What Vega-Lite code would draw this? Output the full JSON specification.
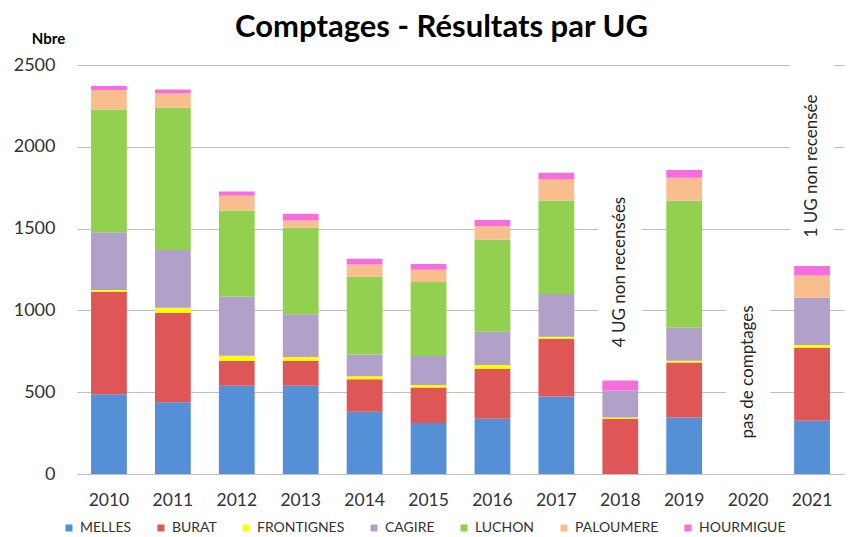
{
  "$schema": "https://vega.github.io/schema/vega-lite/v6.json",
  "width": 767,
  "height": 409,
  "autosize": {"type": "none"},
  "padding": {"left": 77, "top": 65, "right": 5, "bottom": 63},
  "background": "white",
  "title": {
    "text": "Comptages - Résultats par  UG",
    "font": "Lato",
    "fontSize": 31,
    "fontWeight": "bold",
    "color": "#000000",
    "anchor": "middle",
    "dx": -19,
    "dy": 33,
    "offset": 20
  },
  "config": {
    "view": {"stroke": null},
    "font": "Lato",
    "axis": {"labelFont": "Lato", "labelColor": "#333333", "gridColor": "#c0c0c0", "domainColor": "#c0c0c0"}
  },
  "datasets": {
    "counts": [
      {"year": "2010", "MELLES": 487, "BURAT": 627, "FRONTIGNES": 10, "CAGIRE": 353, "LUCHON": 751, "PALOUMERE": 119, "HOURMIGUE": 24},
      {"year": "2011", "MELLES": 438, "BURAT": 548, "FRONTIGNES": 30, "CAGIRE": 353, "LUCHON": 870, "PALOUMERE": 87, "HOURMIGUE": 25},
      {"year": "2012", "MELLES": 540, "BURAT": 153, "FRONTIGNES": 30, "CAGIRE": 361, "LUCHON": 527, "PALOUMERE": 90, "HOURMIGUE": 26},
      {"year": "2013", "MELLES": 540, "BURAT": 153, "FRONTIGNES": 22, "CAGIRE": 261, "LUCHON": 529, "PALOUMERE": 45, "HOURMIGUE": 41},
      {"year": "2014", "MELLES": 381, "BURAT": 198, "FRONTIGNES": 18, "CAGIRE": 134, "LUCHON": 475, "PALOUMERE": 75, "HOURMIGUE": 35},
      {"year": "2015", "MELLES": 312, "BURAT": 216, "FRONTIGNES": 16, "CAGIRE": 177, "LUCHON": 452, "PALOUMERE": 76, "HOURMIGUE": 34},
      {"year": "2016", "MELLES": 338, "BURAT": 304, "FRONTIGNES": 24, "CAGIRE": 204, "LUCHON": 564, "PALOUMERE": 82, "HOURMIGUE": 36},
      {"year": "2017", "MELLES": 473, "BURAT": 354, "FRONTIGNES": 12, "CAGIRE": 261, "LUCHON": 572, "PALOUMERE": 129, "HOURMIGUE": 40},
      {"year": "2018", "MELLES": 0, "BURAT": 336, "FRONTIGNES": 10, "CAGIRE": 165, "LUCHON": 0, "PALOUMERE": 0, "HOURMIGUE": 61},
      {"year": "2019", "MELLES": 346, "BURAT": 336, "FRONTIGNES": 11, "CAGIRE": 201, "LUCHON": 776, "PALOUMERE": 141, "HOURMIGUE": 47},
      {"year": "2021", "MELLES": 326, "BURAT": 446, "FRONTIGNES": 16, "CAGIRE": 290, "LUCHON": 0, "PALOUMERE": 136, "HOURMIGUE": 57}
    ],
    "series": [
      {"name": "MELLES", "rank": 1},
      {"name": "BURAT", "rank": 2},
      {"name": "FRONTIGNES", "rank": 3},
      {"name": "CAGIRE", "rank": 4},
      {"name": "LUCHON", "rank": 5},
      {"name": "PALOUMERE", "rank": 6},
      {"name": "HOURMIGUE", "rank": 7}
    ],
    "notes": [
      {"year": "2018", "text": "4 UG non recensées", "mid": 1235, "lo": 700, "hi": 1800},
      {"year": "2020", "text": "pas de comptages", "mid": 624, "lo": 100, "hi": 1150},
      {"year": "2021", "text": "1 UG non recensée", "mid": 1883, "lo": 1390, "hi": 2530}
    ]
  },
  "layer": [
    {
      "data": {"name": "counts"},
      "transform": [
        {"fold": ["MELLES", "BURAT", "FRONTIGNES", "CAGIRE", "LUCHON", "PALOUMERE", "HOURMIGUE"], "as": ["UG", "n"]},
        {"lookup": "UG", "from": {"data": {"name": "series"}, "key": "name", "fields": ["rank"]}}
      ],
      "mark": {"type": "bar"},
      "encoding": {
        "x": {
          "field": "year", "type": "nominal",
          "scale": {"domain": ["2010","2011","2012","2013","2014","2015","2016","2017","2018","2019","2020","2021"], "paddingInner": 0.44, "paddingOuter": 0.22},
          "axis": {"title": null, "labelAngle": 0, "labelFontSize": 17.5, "labelPadding": 17, "ticks": false, "domain": true, "domainWidth": 1.2, "grid": false}
        },
        "y": {
          "field": "n", "type": "quantitative", "stack": "zero",
          "scale": {"domain": [0, 2500], "nice": false},
          "axis": {
            "values": [0, 500, 1000, 1500, 2000, 2500], "format": "d",
            "labelFontSize": 18, "labelPadding": 22, "ticks": false, "domain": false,
            "gridWidth": 1.2,
            "title": "Nbre", "titleAngle": 0, "titleFont": "Lato", "titleFontSize": 15, "titleFontWeight": "bold",
            "titleColor": "#000000", "titleX": -29, "titleY": -22, "titleAlign": "center", "titleBaseline": "alphabetic"
          }
        },
        "color": {
          "field": "UG", "type": "nominal",
          "scale": {
            "domain": ["MELLES", "BURAT", "FRONTIGNES", "CAGIRE", "LUCHON", "PALOUMERE", "HOURMIGUE"],
            "range": ["#558fd5", "#de5656", "#ffff00", "#b1a1c8", "#92d050", "#f9be8e", "#f66edc"]
          },
          "legend": {
            "title": null, "orient": "none", "direction": "horizontal", "legendX": -15, "legendY": 456,
            "symbolType": "square", "symbolSize": 49, "symbolStrokeWidth": 0,
            "labelFont": "Lato", "labelFontSize": 14, "labelColor": "#333333", "labelOffset": 4,
            "columnPadding": 22
          }
        },
        "order": {"field": "rank", "type": "quantitative", "sort": "ascending"}
      }
    },
    {
      "data": {"name": "notes"},
      "mark": {"type": "bar", "color": "white", "width": 44},
      "encoding": {
        "x": {"field": "year", "type": "nominal"},
        "y": {"field": "lo", "type": "quantitative"},
        "y2": {"field": "hi"}
      }
    },
    {
      "data": {"name": "notes"},
      "mark": {"type": "text", "angle": 270, "font": "Lato", "fontSize": 17, "color": "#262626", "align": "center", "baseline": "middle"},
      "encoding": {
        "x": {"field": "year", "type": "nominal"},
        "y": {"field": "mid", "type": "quantitative"},
        "text": {"field": "text"}
      }
    }
  ]
}
